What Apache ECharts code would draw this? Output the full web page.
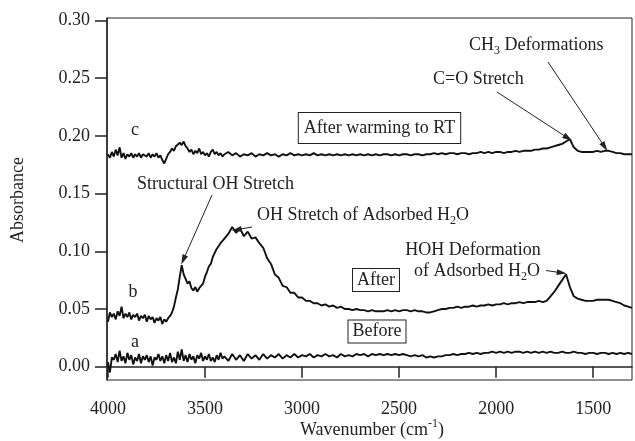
<!DOCTYPE html>
<html>
<head>
<meta charset="utf-8">
<title>IR spectra</title>
<script src="https://cdn.jsdelivr.net/npm/echarts@6/dist/echarts.min.js"></script>
<style>
  html, body { margin: 0; padding: 0; background: #fff; }
  #chart { width: 635px; height: 441px; }
</style>
</head>
<body>
<div id="chart"></div>
<script>
// wavenumbers (cm-1): 10 cm-1 steps down to 3400, then 20 cm-1 steps
const wavenumberHigh = [
  4000, 3990, 3980, 3970, 3960, 3950, 3940, 3930, 3920, 3910,
  3900, 3890, 3880, 3870, 3860, 3850, 3840, 3830, 3820, 3810,
  3800, 3790, 3780, 3770, 3760, 3750, 3740, 3730, 3720, 3710,
  3700, 3690, 3680, 3670, 3660, 3650, 3640, 3630, 3620, 3610,
  3600, 3590, 3580, 3570, 3560, 3550, 3540, 3530, 3520, 3510,
  3500, 3490, 3480, 3470, 3460, 3450, 3440, 3430, 3420, 3410,
  3400
];
const wavenumberLow = [
  3380, 3360, 3340, 3320, 3300, 3280, 3260, 3240, 3220, 3200,
  3180, 3160, 3140, 3120, 3100, 3080, 3060, 3040, 3020, 3000,
  2980, 2960, 2940, 2920, 2900, 2880, 2860, 2840, 2820, 2800,
  2780, 2760, 2740, 2720, 2700, 2680, 2660, 2640, 2620, 2600,
  2580, 2560, 2540, 2520, 2500, 2480, 2460, 2440, 2420, 2400,
  2380, 2360, 2340, 2320, 2300, 2280, 2260, 2240, 2220, 2200,
  2180, 2160, 2140, 2120, 2100, 2080, 2060, 2040, 2020, 2000,
  1980, 1960, 1940, 1920, 1900, 1880, 1860, 1840, 1820, 1800,
  1780, 1760, 1740, 1720, 1700, 1680, 1660, 1640, 1620, 1600,
  1580, 1560, 1540, 1520, 1500, 1480, 1460, 1440, 1420, 1400,
  1380, 1360, 1340, 1320, 1300
];

// trace a - Before
const beforeHigh = [
  0.004, -0.005, 0.008, 0.006, 0.011, 0.004, 0.014, 0.005, 0.009, 0.003,
  0.012, 0.006, 0.010, 0.002, 0.008, 0.005, 0.011, 0.003, 0.009, 0.006,
  0.010, 0.004, 0.009, 0.001, 0.008, 0.006, 0.011, 0.005, 0.009, 0.003,
  0.010, 0.005, 0.012, 0.004, 0.008, 0.003, 0.013, 0.006, 0.015, 0.005,
  0.010, 0.004, 0.011, 0.006, 0.009, 0.003, 0.010, 0.007, 0.012, 0.005,
  0.009, 0.006, 0.011, 0.005, 0.008, 0.004, 0.010, 0.006, 0.012, 0.007,
  0.009
];
const beforeLow = [
  0.005, 0.011, 0.006, 0.010, 0.005, 0.011, 0.007, 0.010, 0.006, 0.011,
  0.007, 0.010, 0.008, 0.011, 0.007, 0.010, 0.008, 0.011, 0.008, 0.010,
  0.009, 0.011, 0.008, 0.010, 0.009, 0.011, 0.009, 0.010, 0.008, 0.011,
  0.009, 0.010, 0.009, 0.011, 0.010, 0.011, 0.009, 0.011, 0.010, 0.011,
  0.010, 0.011, 0.010, 0.011, 0.010, 0.011, 0.010, 0.009, 0.010, 0.009,
  0.010, 0.008, 0.009, 0.008, 0.009, 0.009, 0.010, 0.010, 0.011, 0.010,
  0.011, 0.011, 0.012, 0.011, 0.012, 0.011, 0.012, 0.012, 0.013, 0.012,
  0.013, 0.012, 0.013, 0.012, 0.013, 0.013, 0.012, 0.013, 0.012, 0.013,
  0.012, 0.013, 0.012, 0.013, 0.012, 0.012, 0.013, 0.012, 0.012, 0.013,
  0.012, 0.012, 0.011, 0.012, 0.012, 0.011, 0.012, 0.012, 0.011, 0.012,
  0.011, 0.012, 0.011, 0.012, 0.011
];

// trace b - After
const afterHigh = [
  0.039, 0.047, 0.043, 0.046, 0.041, 0.048, 0.044, 0.052, 0.042, 0.046,
  0.043, 0.047, 0.041, 0.045, 0.043, 0.046, 0.040, 0.044, 0.042, 0.045,
  0.039, 0.044, 0.041, 0.043, 0.038, 0.042, 0.040, 0.043, 0.037, 0.041,
  0.039, 0.042, 0.044, 0.047, 0.052, 0.060, 0.067, 0.078, 0.088, 0.080,
  0.076, 0.072, 0.074, 0.068, 0.066, 0.069, 0.065, 0.068, 0.067, 0.072,
  0.078, 0.082, 0.087, 0.089, 0.095, 0.096, 0.102, 0.103, 0.107, 0.108,
  0.111
];
const afterLow = [
  0.115, 0.121, 0.116, 0.120, 0.113, 0.117, 0.111, 0.112, 0.107, 0.103,
  0.094, 0.089, 0.080, 0.077, 0.070, 0.069, 0.064, 0.064, 0.060, 0.060,
  0.057, 0.057, 0.055, 0.055, 0.053, 0.054, 0.052, 0.053, 0.051, 0.052,
  0.050, 0.050, 0.049, 0.050, 0.049, 0.049, 0.048, 0.049, 0.048, 0.048,
  0.048, 0.049, 0.048, 0.049, 0.048, 0.049, 0.049, 0.048, 0.049, 0.048,
  0.048, 0.047, 0.047, 0.048, 0.049, 0.050, 0.050, 0.051, 0.051, 0.052,
  0.051, 0.052, 0.052, 0.053, 0.052, 0.053, 0.053, 0.054, 0.053, 0.054,
  0.054, 0.055, 0.054, 0.055, 0.055, 0.056, 0.055, 0.056, 0.056, 0.056,
  0.057, 0.056, 0.057, 0.061, 0.065, 0.070, 0.075, 0.080, 0.069, 0.061,
  0.059, 0.058, 0.057, 0.057, 0.057, 0.058, 0.058, 0.058, 0.058, 0.057,
  0.056, 0.055, 0.053, 0.052, 0.051
];

// trace c - After warming to RT
const warmedHigh = [
  0.184, 0.181, 0.186, 0.182, 0.188, 0.183, 0.190, 0.181, 0.185, 0.180,
  0.184, 0.182, 0.185, 0.181, 0.184, 0.182, 0.185, 0.181, 0.184, 0.183,
  0.182, 0.185, 0.181, 0.184, 0.182, 0.185, 0.181, 0.183, 0.179, 0.176,
  0.180, 0.184, 0.186, 0.189, 0.187, 0.191, 0.190, 0.194, 0.192, 0.195,
  0.191, 0.189, 0.186, 0.188, 0.184, 0.187, 0.185, 0.189, 0.184, 0.186,
  0.183, 0.185, 0.182, 0.186, 0.188, 0.184, 0.186, 0.183, 0.185, 0.182,
  0.184
];
const warmedLow = [
  0.186, 0.183, 0.185, 0.182, 0.184, 0.183, 0.185, 0.182, 0.184, 0.183,
  0.185, 0.183, 0.184, 0.182, 0.184, 0.183, 0.185, 0.183, 0.184, 0.183,
  0.184, 0.183, 0.185, 0.183, 0.184, 0.183, 0.184, 0.183, 0.184, 0.183,
  0.184, 0.183, 0.184, 0.183, 0.184, 0.183, 0.184, 0.183, 0.184, 0.183,
  0.184, 0.184, 0.183, 0.184, 0.183, 0.184, 0.184, 0.183, 0.184, 0.184,
  0.183, 0.184, 0.184, 0.185, 0.184, 0.185, 0.184, 0.185, 0.185, 0.184,
  0.185, 0.185, 0.184, 0.185, 0.185, 0.186, 0.185, 0.186, 0.185, 0.186,
  0.186, 0.185, 0.186, 0.186, 0.187, 0.186, 0.187, 0.187, 0.187, 0.188,
  0.188, 0.189, 0.189, 0.190, 0.191, 0.192, 0.193, 0.195, 0.197, 0.190,
  0.187, 0.186, 0.186, 0.186, 0.186, 0.187, 0.186, 0.187, 0.187, 0.186,
  0.185, 0.185, 0.184, 0.184, 0.184
];

const xTicks = [1500, 2000, 2500, 3000, 3500, 4000];
const yTicks = [0, 0.05, 0.10, 0.15, 0.20, 0.25, 0.30];

const wavenumber = wavenumberHigh.concat(wavenumberLow);
const before = beforeHigh.concat(beforeLow);
const after = afterHigh.concat(afterLow);
const warmed = warmedHigh.concat(warmedLow);

const FONT = "'Liberation Serif', 'Times New Roman', serif";
const INK = '#222';

const pairs = (vals) => wavenumber.map((w, i) => [w, vals[i]]);

const lineSeries = (name, vals) => ({
  name: name,
  type: 'line',
  data: pairs(vals),
  showSymbol: false,
  symbol: 'none',
  lineStyle: { color: '#111', width: 1.9 },
  silent: true,
  z: 3,
});

// sub/superscript helpers for rich text
const rich = {
  s: { fontFamily: FONT, fontSize: 12, lineHeight: 12, verticalAlign: 'bottom', fill: INK },
  u: { fontFamily: FONT, fontSize: 12, lineHeight: 12, verticalAlign: 'top', fill: INK },
};

const label = (text, x, y, align, extra, rotation) => ({
  type: 'text',
  x: x,
  y: y,
  z: 10,
  rotation: rotation || 0,
  style: Object.assign({
    text: text,
    fontFamily: FONT,
    fontSize: 18,
    lineHeight: 24,
    fill: INK,
    align: align || 'left',
    verticalAlign: 'middle',
    rich: rich,
  }, extra || {}),
});

const boxed = (text, x, y, padding) => label(text, x, y, 'center', {
  lineHeight: 20,
  padding: padding,
  borderColor: INK,
  borderWidth: 1,
  backgroundColor: '#fff',
});

const chart = echarts.init(document.getElementById('chart'));

const afterSeries = lineSeries('After', after);
afterSeries.markLine = {
  silent: true,
  symbol: ['none', 'triangle'],
  symbolSize: [6, 10],
  label: { show: false },
  lineStyle: { color: INK, width: 1, type: 'solid' },
  emphasis: { disabled: true },
  animation: false,
  data: [
    [{ x: 212, y: 195 }, { coord: [3612, 0.0925] }],
    [{ x: 252, y: 227 }, { coord: [3337, 0.1186] }],
    [{ x: 546, y: 270.5 }, { coord: [1662, 0.0813] }],
    [{ x: 497, y: 92 }, { coord: [1630, 0.198] }],
    [{ x: 548, y: 62 }, { coord: [1441, 0.1905] }],
  ],
};

chart.setOption({
  animation: false,
  backgroundColor: '#fff',
  grid: {
    left: 107, right: 3, top: 18, bottom: 61,
    show: true, borderColor: INK, borderWidth: 1,
  },
  xAxis: {
    type: 'value',
    min: 1300,
    max: 4005,
    inverse: true,
    axisLine: { show: true, lineStyle: { color: INK, width: 1.5 } },
    axisTick: { show: true, length: 11, customValues: xTicks, lineStyle: { color: INK, width: 1.5 } },
    axisLabel: {
      customValues: xTicks,
      margin: 20,
      fontFamily: FONT, fontSize: 18, color: INK,
      formatter: (v) => String(v),
    },
    splitLine: { show: false },
  },
  yAxis: {
    type: 'value',
    min: -0.0115,
    max: 0.302,
    axisLine: { show: true, lineStyle: { color: INK, width: 1.5 } },
    axisTick: { show: true, length: 12, customValues: yTicks, lineStyle: { color: INK, width: 1.5 } },
    axisLabel: {
      customValues: yTicks,
      margin: 17,
      fontFamily: FONT, fontSize: 18, color: INK,
      formatter: (v) => v.toFixed(2),
    },
    splitLine: { show: false },
  },
  series: [
    lineSeries('Before', before),
    afterSeries,
    lineSeries('After warming to RT', warmed),
  ],
  graphic: [
    label('Absorbance', 18, 200, 'center', null, Math.PI / 2),
    label('Wavenumber (cm{u|-1})', 372, 430, 'center'),
    label('c', 135, 130, 'center'),
    label('b', 133, 292, 'center'),
    label('a', 135, 342, 'center'),
    boxed('After warming to RT', 379.5, 128, [5, 5]),
    boxed('After', 376, 280, [1, 4]),
    boxed('Before', 377, 331.5, [1, 4]),
    label('Structural OH Stretch', 137, 184),
    label('OH Stretch of Adsorbed H{s|2}O', 257, 215),
    label('HOH Deformation', 473, 250, 'center'),
    label('of Adsorbed H{s|2}O', 477, 271, 'center'),
    label('C=O Stretch', 433, 79),
    label('CH{s|3} Deformations', 469, 45),
  ],
});
</script>
</body>
</html>
